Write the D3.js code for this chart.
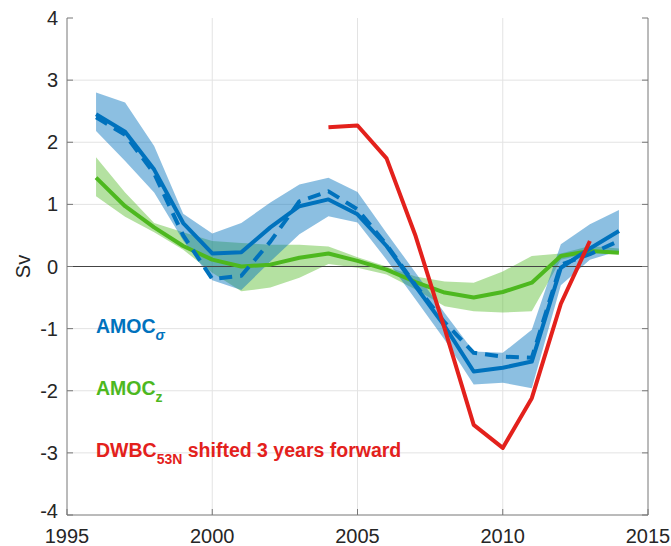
<!DOCTYPE html>
<html lang="en">
<head>
  <meta charset="UTF-8">
  <title>AMOC vs DWBC</title>
  <style>
    body { margin: 0; background: #fff; }
    text { font-family: 'Liberation Sans', Arial, Helvetica, sans-serif; }
  </style>
</head>
<body>

  <svg id="svg" width="671" height="546"></svg>

  <script src="https://d3js.org/d3.v7.min.js"></script>
  <script>
    // --------------- data ---------------
    const years = [1996, 1997, 1998, 1999, 2000, 2001, 2002, 2003, 2004, 2005,
                   2006, 2007, 2008, 2009, 2010, 2011, 2012, 2013, 2014]

    const sigmaSolid  = [2.45, 2.17, 1.56, 0.70, 0.21, 0.23, 0.63, 0.97, 1.08, 0.84,
                         0.33, -0.32, -0.96, -1.69, -1.63, -1.53, -0.02, 0.29, 0.57]
    const sigmaDashed = [2.40, 2.12, 1.50, 0.50, -0.20, -0.15, 0.40, 1.05, 1.21, 0.92,
                         0.35, -0.30, -0.90, -1.39, -1.45, -1.47, 0.03, 0.20, 0.41]
    const sigmaUpper  = [2.80, 2.64, 1.94, 0.85, 0.53, 0.70, 1.03, 1.32, 1.43, 1.20,
                         0.54, -0.10, -0.75, -1.37, -1.39, -1.02, 0.36, 0.68, 0.91]
    const sigmaLower  = [2.18, 1.70, 1.19, 0.42, -0.22, -0.38, 0.08, 0.52, 0.81, 0.71,
                         0.11, -0.53, -1.18, -1.90, -1.87, -1.96, -0.30, 0.11, 0.25]

    const zSolid = [1.43, 0.97, 0.63, 0.33, 0.11, 0.00, 0.03, 0.14, 0.21, 0.09,
                    -0.05, -0.25, -0.42, -0.50, -0.41, -0.26, 0.17, 0.25, 0.22]
    const zUpper = [1.76, 1.19, 0.70, 0.55, 0.41, 0.38, 0.35, 0.35, 0.32, 0.15,
                    0.00, -0.16, -0.24, -0.26, -0.08, 0.17, 0.21, 0.33, 0.29]
    const zLower = [1.13, 0.80, 0.55, 0.27, -0.10, -0.40, -0.34, -0.18, 0.04, -0.02,
                    -0.13, -0.37, -0.64, -0.72, -0.74, -0.72, 0.11, 0.22, 0.21]

    const dwbcYears  = [2004, 2005, 2006, 2007, 2008, 2009, 2010, 2011, 2012, 2013]
    const dwbcValues = [2.24, 2.27, 1.74, 0.49, -1.00, -2.55, -2.92, -2.12, -0.60, 0.41]

    const xTicks = [1995, 2000, 2005, 2010, 2015]
    const yTicks = [-4, -3, -2, -1, 0, 1, 2, 3, 4]

    // --------------- layout ---------------
    const plotL = 67, plotR = 648, plotT = 18, plotB = 515

    const blue = '#0072BD', green = '#4DB81F', red = '#E3211C'

    const xScale = d3.scaleLinear().domain([1995, 2015]).range([plotL, plotR])
    const yScale = d3.scaleLinear().domain([-4, 4]).range([plotB, plotT])

    const svg = d3.select('#svg')

    // grid
    svg.append('g')
      .selectAll('line')
      .data(xTicks.slice(1, -1))
      .enter()
      .append('line')
      .attr('x1', d => xScale(d)).attr('x2', d => xScale(d))
      .attr('y1', plotT).attr('y2', plotB)
      .attr('stroke', '#e3e3e3')
    svg.append('g')
      .selectAll('line')
      .data(yTicks.filter(d => d !== 0 && d !== -4 && d !== 4))
      .enter()
      .append('line')
      .attr('x1', plotL).attr('x2', plotR)
      .attr('y1', d => yScale(d)).attr('y2', d => yScale(d))
      .attr('stroke', '#e3e3e3')

    // bands
    const rows = years.map((y, i) => ({
      year: y, s: sigmaSolid[i], sd: sigmaDashed[i], su: sigmaUpper[i], sl: sigmaLower[i],
      z: zSolid[i], zu: zUpper[i], zl: zLower[i]
    }))

    const area = (hi, lo) => d3.area()
      .x(d => xScale(d.year))
      .y0(d => yScale(d[lo]))
      .y1(d => yScale(d[hi]))

    svg.append('path')
      .datum(rows)
      .attr('d', area('zu', 'zl'))
      .attr('fill', green)
      .attr('fill-opacity', 0.42)

    svg.append('path')
      .datum(rows)
      .attr('d', area('su', 'sl'))
      .attr('fill', blue)
      .attr('fill-opacity', 0.45)

    // zero line
    svg.append('line')
      .attr('x1', plotL).attr('x2', plotR)
      .attr('y1', yScale(0)).attr('y2', yScale(0))
      .attr('stroke', '#444')
      .attr('stroke-width', 1)

    // lines
    const line = key => d3.line()
      .x(d => xScale(d.year))
      .y(d => yScale(d[key]))

    const drawLine = (data, key, color, dash) => svg.append('path')
      .datum(data)
      .attr('d', line(key))
      .attr('fill', 'none')
      .attr('stroke', color)
      .attr('stroke-width', 4)
      .attr('stroke-linejoin', 'round')
      .attr('stroke-dasharray', dash)

    drawLine(rows, 'z', green, null)
    drawLine(rows, 'sd', blue, '13,8')
    drawLine(rows, 's', blue, null)

    const dwbc = dwbcYears.map((y, i) => ({ year: y, v: dwbcValues[i] }))
    drawLine(dwbc, 'v', red, null)

    // axes (box without top)
    const axisColor = '#777'
    svg.append('path')
      .attr('d', `M${plotL},${plotT}V${plotB}H${plotR}V${plotT}`)
      .attr('fill', 'none')
      .attr('stroke', axisColor)

    svg.append('g')
      .selectAll('line')
      .data(yTicks)
      .enter()
      .append('line')
      .attr('x1', plotL).attr('x2', plotL + 6)
      .attr('y1', d => yScale(d)).attr('y2', d => yScale(d))
      .attr('stroke', axisColor)
    svg.append('g')
      .selectAll('line')
      .data(yTicks)
      .enter()
      .append('line')
      .attr('x1', plotR - 6).attr('x2', plotR)
      .attr('y1', d => yScale(d)).attr('y2', d => yScale(d))
      .attr('stroke', axisColor)
    svg.append('g')
      .selectAll('line')
      .data(xTicks)
      .enter()
      .append('line')
      .attr('x1', d => xScale(d)).attr('x2', d => xScale(d))
      .attr('y1', plotB).attr('y2', plotB - 6)
      .attr('stroke', axisColor)

    // tick labels
    svg.append('g')
      .selectAll('text')
      .data(yTicks)
      .enter()
      .append('text')
      .text(d => d)
      .attr('x', plotL - 9)
      .attr('y', d => yScale(d) + (d === -4 ? -4 : 0))
      .attr('dy', '0.35em')
      .attr('text-anchor', 'end')
      .style('font-size', '20px')
      .style('fill', '#262626')

    svg.append('g')
      .selectAll('text')
      .data(xTicks)
      .enter()
      .append('text')
      .text(d => d)
      .attr('x', d => xScale(d))
      .attr('y', 543)
      .attr('text-anchor', 'middle')
      .style('font-size', '20px')
      .style('fill', '#262626')

    svg.append('text')
      .text('Sv')
      .attr('transform', `translate(30, ${yScale(0)}) rotate(-90)`)
      .attr('text-anchor', 'middle')
      .style('font-size', '20px')
      .style('fill', '#262626')

    // labels
    const label = (y, color, main, sub, rest, subStyle) => {
      const t = svg.append('text')
        .attr('x', 96)
        .attr('y', y)
        .style('font-size', '19.5px')
        .style('font-weight', 'bold')
        .style('fill', color)
      t.append('tspan').text(main)
      t.append('tspan').text(sub)
        .attr('dy', 7)
        .style('font-size', '14px')
        .style('font-style', subStyle)
      if (rest) t.append('tspan').text(rest).attr('dy', -7)
    }
    label(333, blue, 'AMOC', 'σ', null, 'italic')
    label(395, green, 'AMOC', 'z', null, 'normal')
    label(457, red, 'DWBC', '53N', ' shifted 3 years forward', 'normal')
  </script>
</body>
</html>
